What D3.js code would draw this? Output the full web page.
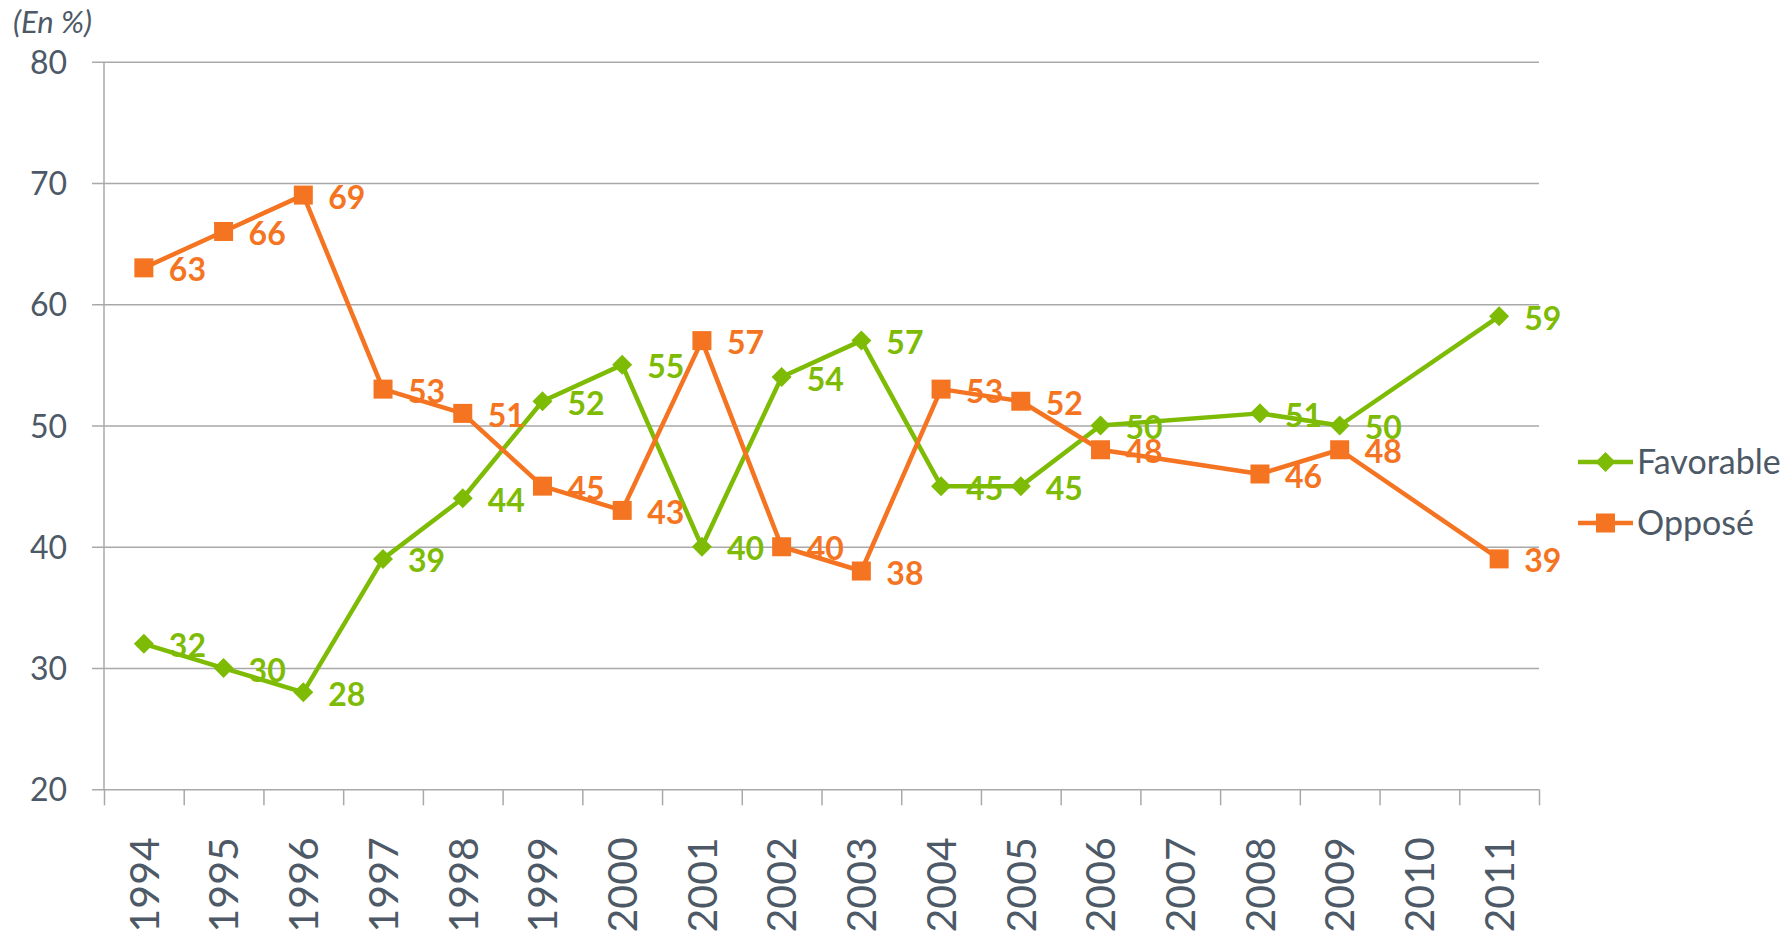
<!DOCTYPE html>
<html>
<head>
<meta charset="utf-8">
<script src="https://cdn.jsdelivr.net/npm/d3@7"></script>
<style>
  body { margin: 0; background: #fff; }
  text { font-family: Lato, "Open Sans", sans-serif; }
</style>
</head>
<body>
<div id="chart"></div>
<script>
// chart data
let years = ["1994","1995","1996","1997","1998","1999","2000","2001","2002",
             "2003","2004","2005","2006","2007","2008","2009","2010","2011"];
let favorable = [32, 30, 28, 39, 44, 52, 55, 40, 54, 57, 45, 45, 50, null, 51, 50, null, 59];
let oppose    = [63, 66, 69, 53, 51, 45, 43, 57, 40, 38, 53, 52, 48, null, 46, 48, null, 39];
let yTicks = [20, 30, 40, 50, 60, 70, 80];
let seriesNames = ["Favorable", "Opposé"];
let unitLabel = "(En %)";

var width = 1785,
    height = 932;

var green = "#7dbb05",
    orange = "#f47421",
    textCol = "#4d5966",
    gridCol = "#a9a9a9";

var plotLeft = 104, plotRight = 1539, plotTop = 61.7, plotBottom = 789.3;

var svg = d3.select('#chart').append('svg')
    .attr('width', width)
    .attr('height', height);

// scales
let x = d3.scaleBand().domain(years).range([plotLeft, plotRight]);
let xIdx = d3.scaleLinear().domain([0, years.length]).range([plotLeft, plotRight]);
let y = d3.scaleLinear().domain([20, 80]).range([plotBottom, plotTop]);

// y axis + gridlines
let yAxis = svg.append("g")
    .attr("transform", "translate(" + plotLeft + ",0)")
    .call(d3.axisLeft(y).tickValues(yTicks).tickSizeInner(-(plotRight - plotLeft)).tickSizeOuter(0).tickPadding(37));
yAxis.select(".domain").remove();
yAxis.selectAll(".tick line").attr("x1", -12).attr("stroke", gridCol).attr("stroke-width", 1.5);
yAxis.selectAll(".tick text")
    .attr("fill", textCol)
    .style("font-size", "32px")
    .attr("dy", "0.36em");

// left axis line
svg.append("line")
    .attr("x1", plotLeft).attr("x2", plotLeft)
    .attr("y1", plotTop).attr("y2", plotBottom)
    .attr("stroke", gridCol).attr("stroke-width", 1.5);

// x axis ticks at category boundaries
let xTickAxis = svg.append("g")
    .attr("transform", "translate(0," + plotBottom + ")")
    .call(d3.axisBottom(xIdx).tickValues(d3.range(years.length + 1)).tickFormat("").tickSize(16).tickSizeOuter(0));
xTickAxis.select(".domain").remove();
xTickAxis.selectAll(".tick line").attr("stroke", gridCol).attr("stroke-width", 1.5);

// x labels
let xAxis = svg.append("g")
    .attr("transform", "translate(0," + plotBottom + ")")
    .call(d3.axisBottom(x).tickSize(0).tickPadding(0));
xAxis.select(".domain").remove();
xAxis.selectAll(".tick text")
    .attr("fill", textCol)
    .style("font-size", "41px")
    .attr("text-anchor", "end")
    .attr("transform", "rotate(-90)")
    .attr("x", -48)
    .attr("y", 0)
    .attr("dy", "0.36em");

// series
let series = [
    {name: seriesNames[0], values: favorable, color: green, shape: "diamond"},
    {name: seriesNames[1], values: oppose, color: orange, shape: "square"}
];

let line = d3.line()
    .x(d => x(d.year) + x.bandwidth() / 2)
    .y(d => y(d.v));

function marker(sel, shape, color) {
    if (shape == "square") {
        sel.append("rect")
            .attr("x", -9.5).attr("y", -9.5)
            .attr("width", 19).attr("height", 19)
            .attr("fill", color);
    } else {
        sel.append("path")
            .attr("d", "M0,-10L10,0L0,10L-10,0Z")
            .attr("fill", color);
    }
}

// draw lines first, then markers, then labels
for (let s of series) {
    s.points = years.map((yr, i) => ({year: yr, v: s.values[i]})).filter(d => d.v != null);
    svg.append("path")
        .datum(s.points)
        .attr("d", line)
        .attr("fill", "none")
        .attr("stroke", s.color)
        .attr("stroke-width", 4.5)
        .attr("stroke-linejoin", "round");
}
for (let s of series) {
    svg.selectAll(".m-" + s.shape).data(s.points).enter()
        .append("g")
        .attr("class", "m-" + s.shape)
        .attr("transform", d => "translate(" + (x(d.year) + x.bandwidth() / 2) + "," + y(d.v) + ")")
        .each(function() { marker(d3.select(this), s.shape, s.color); });
}
for (let s of series) {
    svg.selectAll(".lbl-" + s.shape).data(s.points).enter()
        .append("text")
        .attr("class", "lbl-" + s.shape)
        .attr("x", d => x(d.year) + x.bandwidth() / 2 + 25)
        .attr("y", d => y(d.v) + 2)
        .attr("dy", "0.36em")
        .attr("fill", s.color)
        .style("font-size", "32px")
        .style("font-weight", "bold")
        .text(d => d.v);
}

// legend
let legend = svg.selectAll(".legend").data(series).enter()
    .append("g")
    .attr("class", "legend")
    .attr("transform", (d, i) => "translate(1578," + (462 + i * 61) + ")");
legend.append("line")
    .attr("x1", 0).attr("x2", 55)
    .attr("stroke", d => d.color)
    .attr("stroke-width", 4.5);
legend.each(function(d) {
    let g = d3.select(this).append("g").attr("transform", "translate(27.5,0)");
    marker(g, d.shape, d.color);
});
legend.append("text")
    .attr("x", 59)
    .attr("dy", "0.36em")
    .attr("fill", textCol)
    .style("font-size", "34px")
    .text(d => d.name);

// unit label
svg.append("text")
    .attr("x", 13).attr("y", 33)
    .attr("fill", textCol)
    .style("font-size", "31px")
    .style("font-style", "italic")
    .text(unitLabel);
</script>
</body>
</html>
